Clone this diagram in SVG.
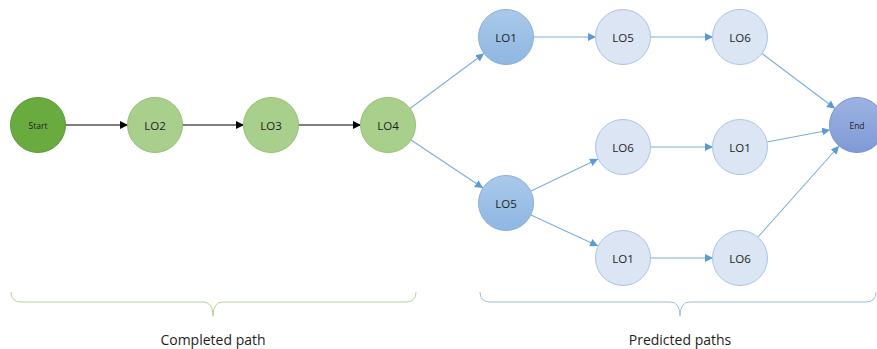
<svg xmlns="http://www.w3.org/2000/svg" width="877" height="349" viewBox="0 0 877 349">
  <style>
    .lbl { font-family: "Open Sans", "Liberation Sans", sans-serif; font-size: 11.5px; fill: #1e1e1e; text-anchor: middle; dominant-baseline: central; }
    .sm { font-size: 8.5px; }
    .cap { font-family: "Open Sans", "Liberation Sans", sans-serif; font-size: 14px; fill: #1e1e1e; text-anchor: middle; }
    .done { stroke: #000; stroke-width: 1.2; fill: none; marker-end: url(#ahBlack); }
    .pred { stroke: #7eaedb; stroke-width: 1.1; fill: none; marker-end: url(#ahBlue); }
    .start { fill: #6aab3f; stroke: #5d9a36; stroke-width: 1; }
    .green { fill: #a8cf8c; stroke: #93c172; stroke-width: 1; }
    .mid { fill: url(#gMid); stroke: #86b0dc; stroke-width: 1; }
    .light { fill: #dbe5f4; stroke: #a9c5e6; stroke-width: 1; }
    .end { fill: url(#gEnd); stroke: #7a93cd; stroke-width: 1; }
  </style>
  <defs>
    <marker id="ahBlack" viewBox="0 0 10 10" refX="10" refY="5" markerWidth="8" markerHeight="8" markerUnits="userSpaceOnUse" orient="auto">
      <path d="M0,0 L10,5 L0,10 z" fill="#000"/>
    </marker>
    <marker id="ahBlue" viewBox="0 0 10 10" refX="10" refY="5" markerWidth="8" markerHeight="8" markerUnits="userSpaceOnUse" orient="auto">
      <path d="M0,0 L10,5 L0,10 z" fill="#5b9bd5"/>
    </marker>
    <linearGradient id="gMid" x1="0" y1="0" x2="0" y2="1">
      <stop offset="0" stop-color="#a9c9ea"/>
      <stop offset="1" stop-color="#8fb7e2"/>
    </linearGradient>
    <linearGradient id="gEnd" x1="0" y1="0" x2="0" y2="1">
      <stop offset="0" stop-color="#9db2e2"/>
      <stop offset="1" stop-color="#7f9ad6"/>
    </linearGradient>
  </defs>

  <!-- connectors -->
  <g id="connectors">
    <line class="done" x1="65" y1="125" x2="128" y2="125"/>
    <line class="done" x1="182" y1="125" x2="244" y2="125"/>
    <line class="done" x1="298" y1="125" x2="361" y2="125"/>
    <line class="pred" x1="410" y1="108.5" x2="484" y2="53.5"/>
    <line class="pred" x1="411" y1="140" x2="483" y2="188"/>
    <line class="pred" x1="533" y1="37" x2="596" y2="37"/>
    <line class="pred" x1="650" y1="37" x2="713" y2="37"/>
    <line class="pred" x1="531" y1="191" x2="598" y2="159"/>
    <line class="pred" x1="531" y1="215" x2="598" y2="246"/>
    <line class="pred" x1="650" y1="147" x2="713" y2="147"/>
    <line class="pred" x1="650" y1="258" x2="713" y2="258"/>
    <line class="pred" x1="762" y1="53.5" x2="835" y2="108.5"/>
    <line class="pred" x1="767" y1="142" x2="830" y2="130"/>
    <line class="pred" x1="758" y1="237" x2="839" y2="146"/>
  </g>

  <!-- completed path nodes -->
  <g id="start"><circle class="start" cx="38" cy="125" r="27.5"/><text class="lbl sm" x="38" y="125">Start</text></g>
  <g id="lo2"><circle class="green" cx="155" cy="125" r="27.5"/><text class="lbl" x="155" y="125">LO2</text></g>
  <g id="lo3"><circle class="green" cx="271" cy="125" r="27.5"/><text class="lbl" x="271" y="125">LO3</text></g>
  <g id="lo4"><circle class="green" cx="388" cy="125" r="27.5"/><text class="lbl" x="388" y="125">LO4</text></g>

  <!-- predicted path nodes -->
  <g id="p-lo1"><circle class="mid" cx="506" cy="37" r="27.5"/><text class="lbl" x="506" y="37">LO1</text></g>
  <g id="p-lo5"><circle class="mid" cx="506" cy="203" r="27.5"/><text class="lbl" x="506" y="203">LO5</text></g>
  <g id="a-lo5"><circle class="light" cx="623" cy="37" r="27.5"/><text class="lbl" x="623" y="37">LO5</text></g>
  <g id="a-lo6"><circle class="light" cx="740" cy="37" r="27.5"/><text class="lbl" x="740" y="37">LO6</text></g>
  <g id="b-lo6"><circle class="light" cx="623" cy="147" r="27.5"/><text class="lbl" x="623" y="147">LO6</text></g>
  <g id="b-lo1"><circle class="light" cx="740" cy="147" r="27.5"/><text class="lbl" x="740" y="147">LO1</text></g>
  <g id="c-lo1"><circle class="light" cx="623" cy="258" r="27.5"/><text class="lbl" x="623" y="258">LO1</text></g>
  <g id="c-lo6"><circle class="light" cx="740" cy="258" r="27.5"/><text class="lbl" x="740" y="258">LO6</text></g>
  <g id="end"><circle class="end" cx="857" cy="125" r="27.5"/><text class="lbl sm" x="857" y="125">End</text></g>

  <!-- braces and captions -->
  <g id="brace-completed">
    <path d="M11,292 Q11,302 21,302 L203,302 Q213,302 213,316 Q213,302 223,302 L406,302 Q416,302 416,292" fill="none" stroke="#b5d39c" stroke-width="1"/>
    <text class="cap" x="213" y="345">Completed path</text>
  </g>
  <g id="brace-predicted">
    <path d="M480,292 Q480,302 490,302 L670,302 Q680,302 680,316 Q680,302 690,302 L866,302 Q876,302 876,292" fill="none" stroke="#9fbcdc" stroke-width="1"/>
    <text class="cap" x="680" y="345">Predicted paths</text>
  </g>
</svg>
